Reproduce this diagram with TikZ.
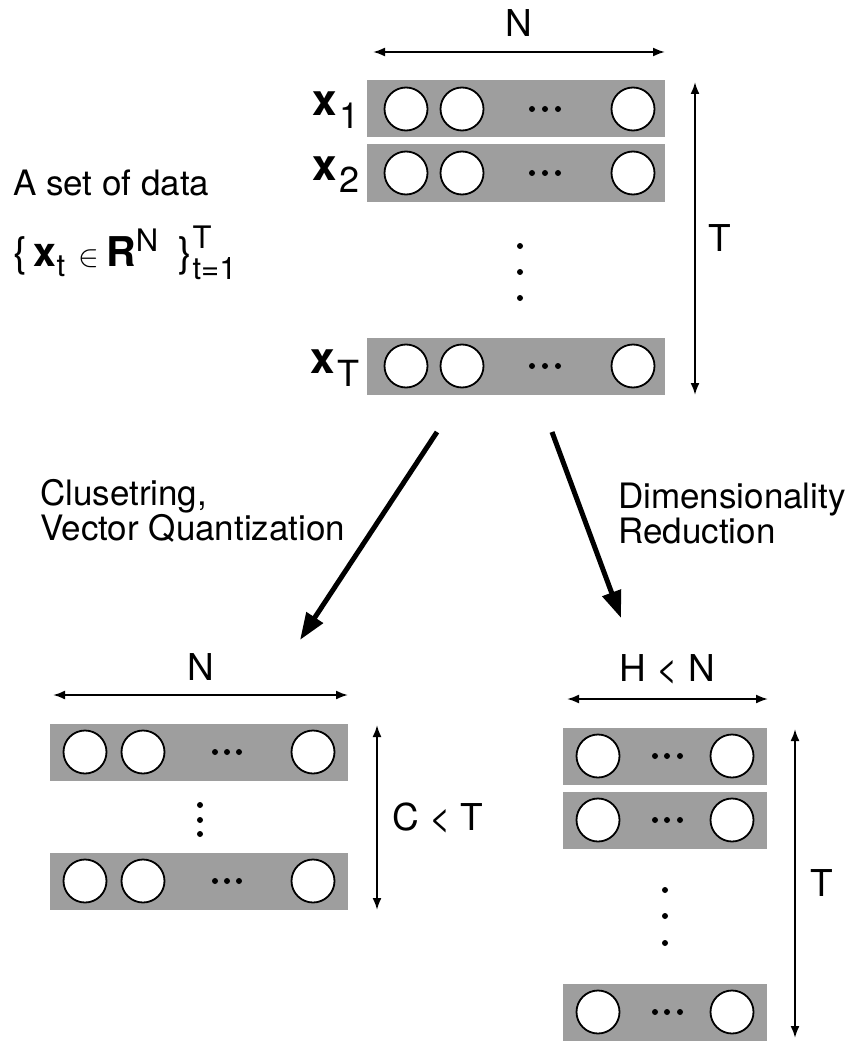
\documentclass[tikz,border=0pt]{standalone}
\usepackage{fontspec}
\setmainfont{TeX Gyre Heros}
\usetikzlibrary{arrows.meta}

\begin{document}
\begin{tikzpicture}[x=1pt,y=-1pt,
    vecrow/.style={fill=black!38,draw=none,minimum height=57pt,inner sep=0pt},
    cell/.style={circle,draw,fill=white,line width=1.8pt,minimum size=43pt,inner sep=0pt},
    sizearrow/.style={{Latex[length=12pt,width=9pt]}-{Latex[length=12pt,width=9pt]},line width=2pt},
    mapto/.style={-{Triangle[length=27pt,width=19pt]},line width=5pt},
    lbl/.style={font=\fontsize{37}{40}\selectfont,inner sep=0pt},
    vlbl/.style={font=\fontsize{44}{46}\selectfont,inner sep=0pt,anchor=base east},
    txt/.style={font=\fontsize{35}{38}\selectfont,inner sep=0pt,anchor=base west}]
  \useasboundingbox (0,0) rectangle (852,1043);

  % data matrix, T rows of length N
  \coordinate (NL) at (373,52);
  \coordinate (NR) at (665,52);
  \draw[sizearrow] (NL) -- (NR) node[midway,above=14pt,lbl] (Nlab) {N};
  \foreach \y/\n in {109/x1,173/x2,366/xT} {
    \node[vecrow,minimum width=298pt] (\n row) at (516,\y) {};
    \node[cell] (\n a) at (406,\y) {};
    \node[cell] (\n b) at (462,\y) {};
    \node[cell] (\n c) at (633,\y) {};
    \fill (532,\y) circle (3) (545,\y) circle (3) (558,\y) circle (3);
  }
  \fill (520,246) circle (3) (520,272) circle (3) (520,298) circle (3);
  \node[vlbl] (x1lab) at (360,116) {\textbf{x}\kern3pt\raisebox{-13pt}{\fontsize{36}{38}\selectfont 1}};
  \node[vlbl] (x2lab) at (360,180) {\textbf{x}\kern3pt\raisebox{-13pt}{\fontsize{36}{38}\selectfont 2}};
  \node[vlbl] (xTlab) at (360,373) {\textbf{x}\kern3pt\raisebox{-13pt}{\fontsize{36}{38}\selectfont T}};
  \coordinate (Ttop) at (695,82);
  \coordinate (Tbot) at (695,395);
  \draw[sizearrow] (Ttop) -- (Tbot) node[midway,right=12pt,lbl] (Tlab) {T};

  \node[txt] (setlab) at (13,195) {A set of data};
  \node[txt,font=\fontsize{41}{44}\selectfont] (setdef) at (13,266)
    {\{\,\textbf{x}\raisebox{-10pt}{\fontsize{31}{33}\selectfont t}\,\,%
    \scalebox{1.25}{$\in$}\,\textbf{R}\raisebox{15pt}{\fontsize{31}{33}\selectfont N}\,\,\,\}%
    \rlap{\raisebox{18pt}{\fontsize{31}{33}\selectfont T}}\raisebox{-13pt}{\fontsize{31}{33}\selectfont t=1}};

  % the two mappings
  \coordinate (cvqS) at (437,432);
  \coordinate (cvqE) at (300,640);
  \coordinate (drS) at (552,432);
  \coordinate (drE) at (621,618);
  \draw[mapto] (cvqS) -- (cvqE);
  \draw[mapto] (drS) -- (drE);
  \node[txt] (cvq1) at (40,505) {Clusetring,};
  \node[txt] (cvq2) at (40,540) {Vector Quantization};
  \node[txt] (dr1) at (618,508) {Dimensionality};
  \node[txt] (dr2) at (618,543) {Reduction};

  % codebook: C < T vectors of length N
  \coordinate (cNL) at (53,695);
  \coordinate (cNR) at (348,695);
  \draw[sizearrow] (cNL) -- (cNR) node[midway,above=14pt,lbl] (cNlab) {N};
  \foreach \y/\n in {752/c1,881/cC} {
    \node[vecrow,minimum width=298pt] (\n row) at (199,\y) {};
    \node[cell] (\n a) at (85,\y) {};
    \node[cell] (\n b) at (143,\y) {};
    \node[cell] (\n c) at (313,\y) {};
    \fill (215,\y) circle (3) (227,\y) circle (3) (239,\y) circle (3);
  }
  \fill (200,805) circle (3) (200,820) circle (3) (200,834) circle (3);
  \coordinate (Ctop) at (377,725);
  \coordinate (Cbot) at (377,910);
  \draw[sizearrow] (Ctop) -- (Cbot) node[midway,right=14pt,lbl] (Clab) {C < T};

  % reduced data: T vectors of length H < N
  \coordinate (hNL) at (567,699);
  \coordinate (hNR) at (768,699);
  \draw[sizearrow] (hNL) -- (hNR) node[midway,above=14pt,lbl] (hNlab) {H < N};
  \foreach \y/\n in {756/h1,820/h2,1012/hT} {
    \node[vecrow,minimum width=204pt] (\n row) at (665,\y) {};
    \node[cell] (\n a) at (598,\y) {};
    \node[cell] (\n b) at (732,\y) {};
    \fill (655,\y) circle (3) (667,\y) circle (3) (680,\y) circle (3);
  }
  \fill (665,890) circle (3) (665,916) circle (3) (665,943) circle (3);
  \coordinate (hTtop) at (795,729);
  \coordinate (hTbot) at (795,1038);
  \draw[sizearrow] (hTtop) -- (hTbot) node[midway,right=14pt,lbl] (hTlab) {T};
\end{tikzpicture}
\end{document}
